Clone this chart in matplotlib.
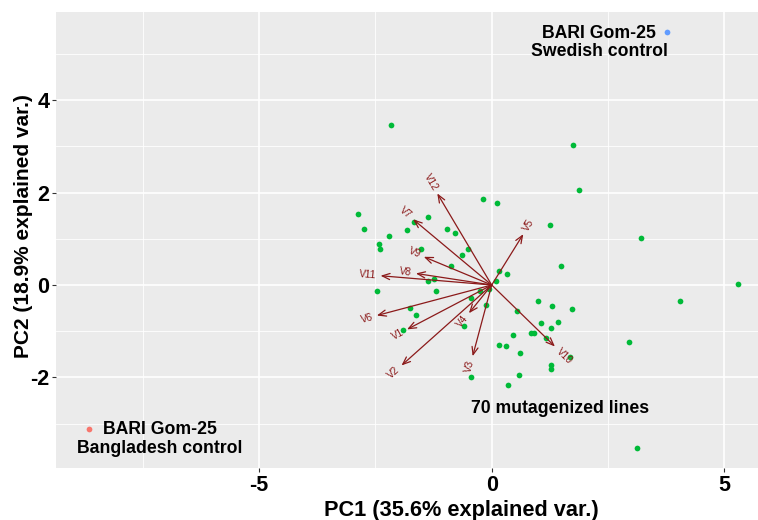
import matplotlib
matplotlib.use("Agg")
import matplotlib.pyplot as plt
import numpy as np

plt.rcParams['font.family'] = ['Liberation Sans', 'DejaVu Sans']
plt.rcParams['axes.unicode_minus'] = False

# ---- data -------------------------------------------------------------
mut_pc1 = [-0.18, 0.11, 1.88, -2.88, -2.74, -2.20, -1.82, -1.67, -1.36, -0.97,
           -0.78, -2.42, -2.40, -1.53, -0.51, -0.64, 1.25, -0.88, 1.50, 0.16,
           0.34, -1.25, -1.38, 0.09, -0.06, -2.47, -1.19, -0.25, -0.45, -0.12,
           0.99, 1.30, 1.73, 0.54, -1.75, -1.62, 1.05, 1.42, 1.27, -1.91,
           -0.59, 0.85, 0.92, 0.46, 1.16, 0.16, 0.31, 1.68, 0.61, 1.27,
           1.27, 0.59, -0.45, 0.36, -2.16, 1.75, 3.22, 5.30, 4.06, 2.95, 3.13]
mut_pc2 = [1.87, 1.78, 2.05, 1.54, 1.21, 1.07, 1.19, 1.37, 1.46, 1.21,
           1.13, 0.89, 0.78, 0.78, 0.78, 0.65, 1.30, 0.40, 0.42, 0.31,
           0.24, 0.14, 0.09, 0.08, -0.08, -0.14, -0.14, -0.14, -0.29, -0.43,
           -0.35, -0.45, -0.51, -0.56, -0.50, -0.65, -0.82, -0.80, -0.94, -0.97,
           -0.89, -1.04, -1.04, -1.08, -1.15, -1.30, -1.32, -1.55, -1.47, -1.74,
           -1.82, -1.95, -2.00, -2.17, 3.47, 3.02, 1.01, 0.02, -0.35, -1.24, -3.52]

bangladesh_pc = (-8.67, -3.11)
swedish_pc = (3.78, 5.47)

var_names = ['V1', 'V2', 'V3', 'V4', 'V5', 'V6', 'V7', 'V8', 'V9', 'V10', 'V11', 'V12']
var_pc1 = [-1.82, -1.94, -0.41, -0.49, 0.68, -2.47, -1.69, -1.63, -1.46, 1.36, -2.39, -1.17]
var_pc2 = [-0.96, -1.74, -1.54, -0.61, 1.10, -0.66, 1.42, 0.25, 0.61, -1.33, 0.20, 1.98]

x_ticks = [-5, 0, 5]
y_ticks = [-2, 0, 2, 4]
x_title = 'PC1 (35.6% explained var.)'
y_title = 'PC2 (18.9% explained var.)'

# ---- figure -----------------------------------------------------------
W, H = 758, 520
fig = plt.figure(figsize=(W / 100, H / 100), dpi=100)
ax_l, ax_r, ax_b, ax_t = 56, 866, 468, 12
ax = fig.add_axes([ax_l / W, (H - ax_b) / H, (ax_r - ax_l) / W, (ax_b - ax_t) / H])
ax.set_facecolor('#EBEBEB')
ax.set_xlim(-9.37, 8.05)
ax.set_ylim(-3.957, 5.903)
for s in ax.spines.values():
    s.set_visible(False)

ax.set_xticks(x_ticks)
ax.set_yticks(y_ticks)
ax.set_xticks([-7.5, -2.5, 2.5, 7.5], minor=True)
ax.set_yticks([-3, -1, 1, 3, 5], minor=True)
ax.grid(which='major', color='white', linewidth=1.2)
ax.grid(which='minor', color='white', linewidth=0.6)
ax.set_axisbelow(True)
ax.tick_params(which='major', length=2.75, width=0.8, color='#333333',
               labelsize=15.5, pad=2.2)
ax.tick_params(which='minor', length=0)
for lab in ax.get_xticklabels() + ax.get_yticklabels():
    lab.set_fontweight('bold')
    lab.set_color('black')

ax.set_xlabel(x_title, fontsize=15.7, fontweight='bold', labelpad=3)
ax.set_ylabel(y_title, fontsize=15.0, fontweight='bold', va='center')
ax.yaxis.set_label_coords((24 - ax_l) / (ax_r - ax_l), (ax_b - 226) / (ax_b - ax_t))

# points
ax.scatter(mut_pc1, mut_pc2, s=17, color='#00BA38', linewidths=0, zorder=3)
ax.scatter([bangladesh_pc[0]], [bangladesh_pc[1]], s=17, color='#F8766D', linewidths=0, zorder=3)
ax.scatter([swedish_pc[0]], [swedish_pc[1]], s=17, color='#619CFF', linewidths=0, zorder=3)

# arrows
arrow_col = '#8B1A1A'
for name, vx, vy in zip(var_names, var_pc1, var_pc2):
    ax.annotate('', xy=(vx, vy), xytext=(0, 0),
                arrowprops=dict(arrowstyle='->,head_length=0.55,head_width=0.22',
                                color=arrow_col, lw=0.9, shrinkA=0, shrinkB=0),
                zorder=4)
    ang = np.degrees(np.arctan(vy / vx))
    d = np.hypot(vx, vy)
    ux, uy = vx / d, vy / d
    off = 3.0
    ax.annotate(name, xy=(vx, vy), xytext=(ux * off, uy * off), textcoords='offset points',
                rotation=ang, rotation_mode='anchor',
                ha='left' if vx > 0 else 'right', va='center',
                fontsize=7.2, color=arrow_col, zorder=5)

# group labels
ax.text(-7.13, -3.33, 'BARI Gom-25\nBangladesh control', ha='center', va='center',
        multialignment='center', fontsize=12.7, fontweight='bold', linespacing=1.1)
ax.text(2.31, 5.24, 'BARI Gom-25\nSwedish control', ha='center', va='center',
        multialignment='center', fontsize=12.7, fontweight='bold', linespacing=1.1)
ax.text(1.47, -2.66, '70 mutagenized lines', ha='center', va='center',
        fontsize=12.7, fontweight='bold')

fig.savefig('out.png', dpi=100)
